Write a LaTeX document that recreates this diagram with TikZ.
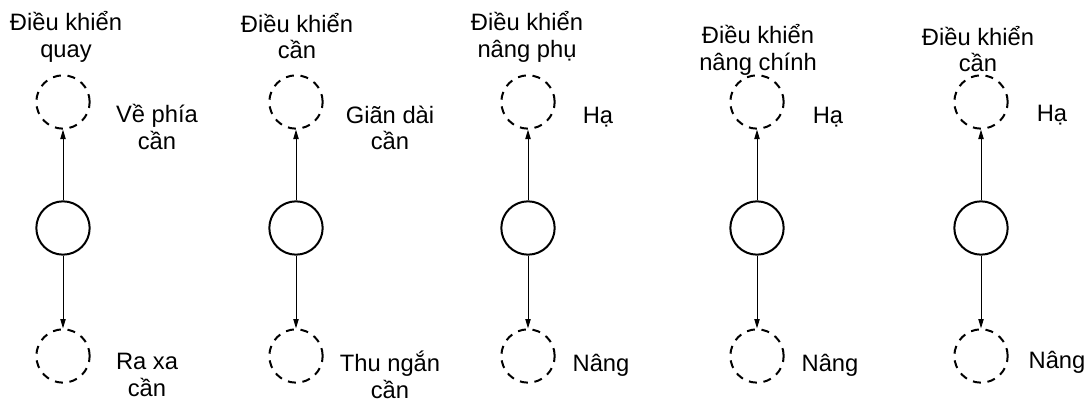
\documentclass[tikz,border=0pt]{standalone}
\usepackage{fontspec}
\setmainfont{Liberation Sans}
\usetikzlibrary{arrows.meta}
\begin{document}
\begin{tikzpicture}[x=0.75pt,y=-0.75pt,
		vitri/.style={circle,draw,line width=1.5pt,minimum size=40pt,inner sep=0pt},
		vitrimo/.style={vitri,dashed,dash pattern=on 6pt off 5pt},
		nhan/.style={align=center,inner sep=0pt,font=\fontsize{17.8}{19.8}\selectfont},
		muiten/.style={-{Triangle[length=7pt,width=4pt]},line width=0.7pt}]
	\useasboundingbox (0,0) rectangle (1091,403);
	%			Điều khiển quay
	\node[vitrimo] (t1) at (63,102) {};
	\node[vitri] (g1) at (63,228) {};
	\node[vitrimo] (d1) at (63,356) {};
	\draw[muiten] (g1) -- (t1);
	\draw[muiten] (g1) -- (d1);
	\node[nhan] (n1) at (66,37) {Điều khiển\\quay};
	\node[nhan] (tr1) at (157,127) {Về phía\\cần};
	\node[nhan] (dr1) at (147,375) {Ra xa\\cần};
	%			Điều khiển cần
	\node[vitrimo] (t2) at (296,102) {};
	\node[vitri] (g2) at (296,228) {};
	\node[vitrimo] (d2) at (296,356) {};
	\draw[muiten] (g2) -- (t2);
	\draw[muiten] (g2) -- (d2);
	\node[nhan] (n2) at (297,36) {Điều khiển\\cần};
	\node[nhan] (tr2) at (390,128) {Giãn dài\\cần};
	\node[nhan] (dr2) at (390,375) {Thu ngắn\\cần};
	%			Điều khiển nâng phụ
	\node[vitrimo] (t3) at (528,102) {};
	\node[vitri] (g3) at (528,228) {};
	\node[vitrimo] (d3) at (528,356) {};
	\draw[muiten] (g3) -- (t3);
	\draw[muiten] (g3) -- (d3);
	\node[nhan] (n3) at (527,37) {Điều khiển\\nâng phụ};
	\node[nhan] (tr3) at (598,117) {Hạ};
	\node[nhan] (dr3) at (601,365) {Nâng};
	%			Điều khiển nâng chính
	\node[vitrimo] (t4) at (757,102) {};
	\node[vitri] (g4) at (757,228) {};
	\node[vitrimo] (d4) at (757,356) {};
	\draw[muiten] (g4) -- (t4);
	\draw[muiten] (g4) -- (d4);
	\node[nhan] (n4) at (758,50) {Điều khiển\\nâng chính};
	\node[nhan] (tr4) at (828,117) {Hạ};
	\node[nhan] (dr4) at (830,365) {Nâng};
	%			Điều khiển cần
	\node[vitrimo] (t5) at (981,102) {};
	\node[vitri] (g5) at (981,228) {};
	\node[vitrimo] (d5) at (981,356) {};
	\draw[muiten] (g5) -- (t5);
	\draw[muiten] (g5) -- (d5);
	\node[nhan] (n5) at (978,49) {Điều khiển\\cần};
	\node[nhan] (tr5) at (1052,115) {Hạ};
	\node[nhan] (dr5) at (1057,362) {Nâng};
\end{tikzpicture}
\end{document}
